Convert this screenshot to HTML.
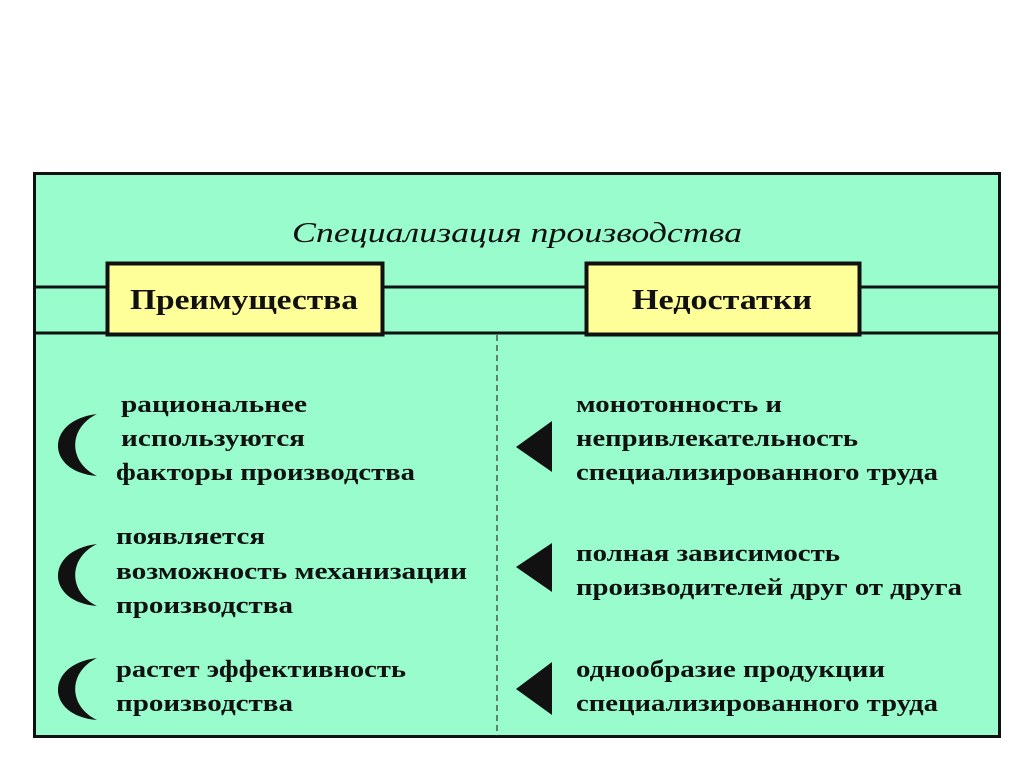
<!DOCTYPE html>
<html><head><meta charset="utf-8"><style>
html,body{margin:0;padding:0;background:#fff;width:1024px;height:767px;overflow:hidden}
svg text{font-family:"Liberation Serif",serif;font-weight:bold;fill:#111}
</style></head><body>
<svg width="1024" height="767" viewBox="0 0 1024 767">
<rect x="34.5" y="173.5" width="965" height="563" fill="#99fccc" stroke="#111" stroke-width="3"/>
<line x1="34" y1="287" x2="1000" y2="287" stroke="#111" stroke-width="3"/>
<line x1="34" y1="333" x2="1000" y2="333" stroke="#111" stroke-width="3"/>
<line x1="497" y1="335" x2="497" y2="736" stroke="#333" stroke-width="1.2" stroke-dasharray="6,4"/>
<text x="292" y="242" font-size="29" font-style="italic" style="font-weight:normal" textLength="450" lengthAdjust="spacingAndGlyphs">Специализация производства</text>
<rect x="107.5" y="263.5" width="275" height="71" fill="#ffff99" stroke="#111" stroke-width="4"/>
<rect x="586.5" y="263.5" width="273" height="71" fill="#ffff99" stroke="#111" stroke-width="4"/>
<text x="130" y="309" font-size="29" textLength="228" lengthAdjust="spacingAndGlyphs">Преимущества</text>
<text x="632" y="309" font-size="29" textLength="180" lengthAdjust="spacingAndGlyphs">Недостатки</text>
<g font-size="24">
<text x="121" y="412" textLength="186" lengthAdjust="spacingAndGlyphs">рациональнее</text>
<text x="121" y="446" textLength="184" lengthAdjust="spacingAndGlyphs">используются</text>
<text x="116" y="480" textLength="299" lengthAdjust="spacingAndGlyphs">факторы производства</text>
<text x="116" y="544" textLength="149" lengthAdjust="spacingAndGlyphs">появляется</text>
<text x="116" y="579" textLength="351" lengthAdjust="spacingAndGlyphs">возможность  механизации</text>
<text x="116" y="613" textLength="177" lengthAdjust="spacingAndGlyphs">производства</text>
<text x="116" y="677" textLength="290" lengthAdjust="spacingAndGlyphs">растет эффективность</text>
<text x="116" y="711" textLength="177" lengthAdjust="spacingAndGlyphs">производства</text>
<text x="576" y="412" textLength="206" lengthAdjust="spacingAndGlyphs">монотонность и</text>
<text x="576" y="446" textLength="282" lengthAdjust="spacingAndGlyphs">непривлекательность</text>
<text x="576" y="480" textLength="362" lengthAdjust="spacingAndGlyphs">специализированного труда</text>
<text x="576" y="561" textLength="264" lengthAdjust="spacingAndGlyphs">полная зависимость</text>
<text x="576" y="595" textLength="386" lengthAdjust="spacingAndGlyphs">производителей друг от друга</text>
<text x="576" y="677" textLength="309" lengthAdjust="spacingAndGlyphs">однообразие продукции</text>
<text x="576" y="711" textLength="362" lengthAdjust="spacingAndGlyphs">специализированного труда</text>
</g>
<g fill="#111">
<path d="M97,414 C45,420 45,472 97,476 C68,462 68,428 97,414Z"/>
<path d="M97,544 C45,550 45,602 97,606 C68,592 68,558 97,544Z"/>
<path d="M97,658 C45,664 45,716 97,720 C68,706 68,672 97,658Z"/>
<polygon points="552,421 552,472 516,447"/>
<polygon points="552,543 552,592 516,567"/>
<polygon points="552,662 552,715 516,689"/>
</g>
</svg>
</body></html>
